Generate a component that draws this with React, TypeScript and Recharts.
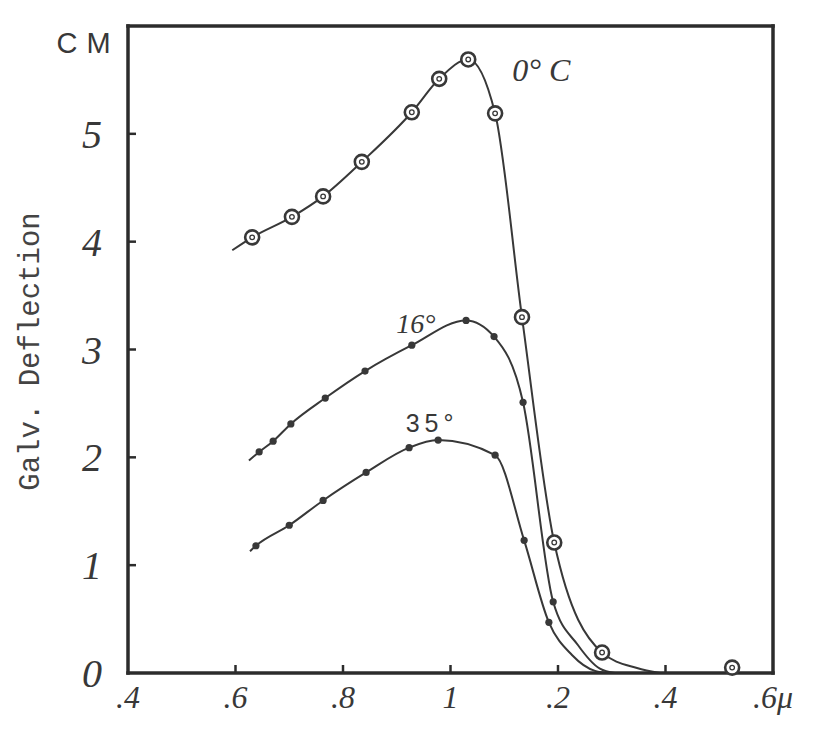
import React from 'react';
import { ComposedChart, Line, XAxis, YAxis } from 'recharts';

// ---------- axes ----------
const X_TICKS = [0.4, 0.6, 0.8, 1.0, 1.2, 1.4, 1.6];
const X_TICK_LABELS = ['.4', '.6', '.8', '1', '.2', '.4', '.6μ'];
const Y_TICKS = [0, 1, 2, 3, 4, 5, 6];
const Y_TICK_LABELS = ['0', '1', '2', '3', '4', '5', 'CM'];
const INNER_X_TICKS = [0.6, 0.8, 1.0, 1.2, 1.4];
const INNER_Y_TICKS = [1, 2, 3, 4, 5];
const Y_TITLE = 'Galv. Deflection';

// ---------- 0 °C (ringed points) ----------
const T0_X = [0.631, 0.705, 0.763, 0.835, 0.928, 0.979, 1.033, 1.083, 1.133, 1.193, 1.282, 1.524];
const T0_Y = [4.04, 4.23, 4.42, 4.74, 5.2, 5.51, 5.69, 5.19, 3.3, 1.21, 0.19, 0.05];
const T0_CURVE_COUNT = 11;
const T0_HEAD_X = [0.594];
const T0_HEAD_Y = [3.92];
const T0_TAIL_X = [1.347, 1.39];
const T0_TAIL_Y = [0.046, 0];

// ---------- 16 ° ----------
const T16_X = [0.644, 0.67, 0.703, 0.767, 0.841, 0.928, 1.029, 1.081, 1.135, 1.191];
const T16_Y = [2.05, 2.15, 2.31, 2.55, 2.8, 3.04, 3.27, 3.12, 2.51, 0.66];
const T16_HEAD_X = [0.625];
const T16_HEAD_Y = [1.97];
const T16_TAIL_X = [1.237, 1.278, 1.306];
const T16_TAIL_Y = [0.26, 0.04, 0];

// ---------- 35 ° ----------
const T35_X = [0.638, 0.7, 0.763, 0.843, 0.923, 0.977, 1.083, 1.137, 1.183];
const T35_Y = [1.18, 1.37, 1.6, 1.86, 2.09, 2.16, 2.02, 1.23, 0.47];
const T35_HEAD_X = [0.627];
const T35_HEAD_Y = [1.13];
const T35_TAIL_X = [1.226, 1.269, 1.297];
const T35_TAIL_Y = [0.167, 0.02, 0];

const SERIES_NAMES = ['0° C', '16°', '35°'];
const SERIES_LABEL_AT = [6, 5, 5];

const INK = '#383838';
const AXIS_INK = '#2c2c2c';
const HAND = "'Liberation Serif', 'DejaVu Serif', serif";
const TICK_LEN = 8;

type Pt = { x: number; y: number };
const zip = (xs: number[], ys: number[]): Pt[] => xs.map((x, i) => ({ x, y: ys[i] }));

const t0Measured = zip(T0_X, T0_Y);
const t0Curve = [...zip(T0_HEAD_X, T0_HEAD_Y), ...t0Measured.slice(0, T0_CURVE_COUNT), ...zip(T0_TAIL_X, T0_TAIL_Y)];
const t16Measured = zip(T16_X, T16_Y);
const t16Curve = [...zip(T16_HEAD_X, T16_HEAD_Y), ...t16Measured, ...zip(T16_TAIL_X, T16_TAIL_Y)];
const t35Measured = zip(T35_X, T35_Y);
const t35Curve = [...zip(T35_HEAD_X, T35_HEAD_Y), ...t35Measured, ...zip(T35_TAIL_X, T35_TAIL_Y)];

const AXIS_LINE = { stroke: AXIS_INK, strokeWidth: 3.5, strokeLinecap: 'square' as const };

const isInner = (v: number, list: number[]) => list.some((t) => Math.abs(t - v) < 1e-6);

const XTick = (p: any) => {
  const v = p.payload.value;
  const i = X_TICKS.findIndex((t) => Math.abs(t - v) < 1e-6);
  return (
    <g>
      {isInner(v, INNER_X_TICKS) && (
        <line x1={p.x} x2={p.x} y1={p.y} y2={p.y - TICK_LEN} stroke={AXIS_INK} strokeWidth={2.5} />
      )}
      <text x={p.x} y={p.y + 35} textAnchor="middle" fontFamily={HAND} fontStyle="italic" fontSize={32} fill={INK}>
        {X_TICK_LABELS[i]}
      </text>
    </g>
  );
};

const YTick = (p: any) => {
  const v = p.payload.value;
  const i = Y_TICKS.findIndex((t) => Math.abs(t - v) < 1e-6);
  const label = Y_TICK_LABELS[i];
  const mark = isInner(v, INNER_Y_TICKS) ? (
    <line x1={p.x} x2={p.x + TICK_LEN} y1={p.y} y2={p.y} stroke={AXIS_INK} strokeWidth={2.5} />
  ) : null;
  if (label === 'CM') {
    return (
      <g>
        {mark}
        <text x={p.x - 40} y={p.y + 27} textAnchor="middle" fontFamily="'Liberation Sans', sans-serif" fontSize={29} letterSpacing={9} fill={INK}>
          {label}
        </text>
      </g>
    );
  }
  return (
    <g>
      {mark}
      <text x={p.x - 36} y={p.y + 14} textAnchor="middle" fontFamily={HAND} fontStyle="italic" fontSize={40} fill={INK}>
        {label}
      </text>
    </g>
  );
};

const TopTick = (p: any) => (
  <line x1={p.x} x2={p.x} y1={p.y} y2={p.y + TICK_LEN} stroke={AXIS_INK} strokeWidth={2.5} />
);

const RightTick = (p: any) => (
  <line x1={p.x} x2={p.x - TICK_LEN} y1={p.y} y2={p.y} stroke={AXIS_INK} strokeWidth={2.5} />
);

const YTitle = (p: any) => {
  const vb = p.viewBox || { x: 0, y: 18, width: 120, height: 647 };
  const cx = vb.x + 23;
  const cy = vb.y + vb.height / 2 + 2;
  return (
    <text
      x={cx}
      y={cy}
      transform={`rotate(-90 ${cx} ${cy})`}
      textAnchor="middle"
      dominantBaseline="central"
      fontFamily="'Liberation Mono', monospace"
      fontSize={29}
      fill="#444"
    >
      {Y_TITLE}
    </text>
  );
};

const RingDot = (p: any) => {
  const { cx, cy, index } = p;
  return (
    <g key={`r${index}`}>
      <circle cx={cx} cy={cy} r={7} fill="#fff" stroke={INK} strokeWidth={2.6} />
      <circle cx={cx} cy={cy} r={2.3} fill="none" stroke={INK} strokeWidth={1.3} />
      {index === SERIES_LABEL_AT[0] && (
        <text x={cx + 73} y={cy + 22} textAnchor="middle" fontFamily={HAND} fontStyle="italic" fontSize={32} fill={INK}>
          {SERIES_NAMES[0]}
        </text>
      )}
    </g>
  );
};

const Dot16 = (p: any) => {
  const { cx, cy, index } = p;
  return (
    <g key={`a${index}`}>
      <circle cx={cx} cy={cy} r={3.6} fill={INK} />
      {index === SERIES_LABEL_AT[1] && (
        <text x={cx + 4} y={cy - 12} textAnchor="middle" fontFamily={HAND} fontStyle="italic" fontSize={28} fill={INK}>
          {SERIES_NAMES[1]}
        </text>
      )}
    </g>
  );
};

const Dot35 = (p: any) => {
  const { cx, cy, index } = p;
  return (
    <g key={`b${index}`}>
      <circle cx={cx} cy={cy} r={3.6} fill={INK} />
      {index === SERIES_LABEL_AT[2] && (
        <text x={cx - 6} y={cy - 8} textAnchor="middle" fontFamily="'Liberation Sans', sans-serif" fontSize={25} letterSpacing={5} fill={INK}>
          {SERIES_NAMES[2]}
        </text>
      )}
    </g>
  );
};

export default function App() {
  return (
    <ComposedChart width={804} height={713} margin={{ top: 18, right: 39, bottom: 0, left: 0 }}>
      <XAxis
        dataKey="x"
        type="number"
        domain={[0.4, 1.6]}
        ticks={X_TICKS}
        interval={0}
        height={48}
        tickSize={0}
        tickMargin={0}
        tickLine={false}
        axisLine={AXIS_LINE}
        tick={XTick}
      />
      <YAxis
        type="number"
        domain={[0, 6]}
        ticks={Y_TICKS}
        interval={0}
        width={120}
        tickSize={0}
        tickMargin={0}
        tickLine={false}
        axisLine={AXIS_LINE}
        tick={YTick}
        label={YTitle}
      />
      <XAxis
        xAxisId="top"
        orientation="top"
        mirror
        type="number"
        domain={[0.4, 1.6]}
        ticks={INNER_X_TICKS}
        interval={0}
        tickSize={0}
        tickMargin={0}
        tickLine={false}
        axisLine={AXIS_LINE}
        tick={TopTick}
      />
      <YAxis
        yAxisId="right"
        orientation="right"
        mirror
        type="number"
        domain={[0, 6]}
        ticks={INNER_Y_TICKS}
        interval={0}
        tickSize={0}
        tickMargin={0}
        tickLine={false}
        axisLine={AXIS_LINE}
        tick={RightTick}
      />

      <Line data={t0Curve} dataKey="y" type="monotone" stroke={INK} strokeWidth={2} dot={false} activeDot={false} isAnimationActive={false} legendType="none" />
      <Line data={t16Curve} dataKey="y" type="monotone" stroke={INK} strokeWidth={2} dot={false} activeDot={false} isAnimationActive={false} legendType="none" />
      <Line data={t35Curve} dataKey="y" type="monotone" stroke={INK} strokeWidth={2} dot={false} activeDot={false} isAnimationActive={false} legendType="none" />

      <Line data={t16Measured} dataKey="y" stroke="none" dot={Dot16} activeDot={false} isAnimationActive={false} legendType="none" />
      <Line data={t35Measured} dataKey="y" stroke="none" dot={Dot35} activeDot={false} isAnimationActive={false} legendType="none" />
      <Line data={t0Measured} dataKey="y" stroke="none" dot={RingDot} activeDot={false} isAnimationActive={false} legendType="none" />
    </ComposedChart>
  );
}
